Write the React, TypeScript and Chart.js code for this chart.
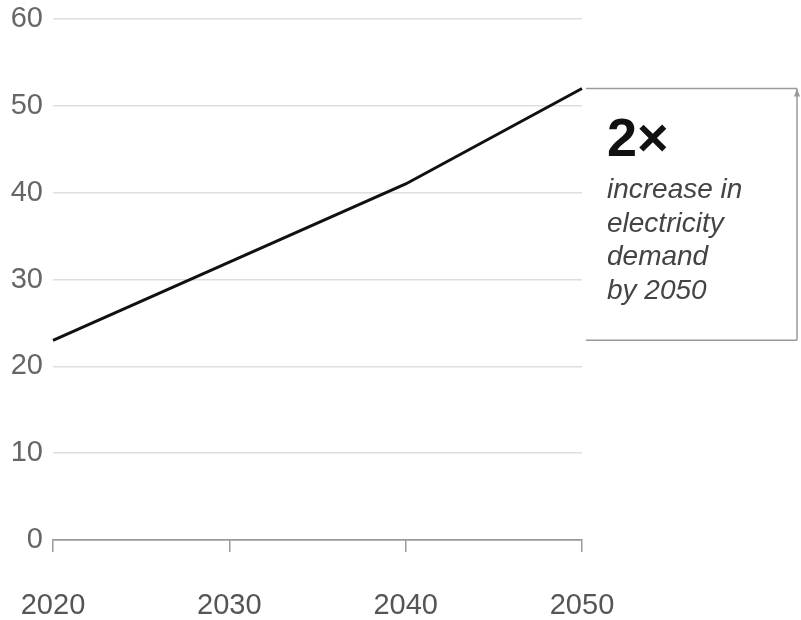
import React, { useEffect, useRef } from "react";
import { Chart, registerables } from "chart.js";

Chart.register(...registerables);

const years = ["2020", "2030", "2040", "2050"];
const demand = [23, 32, 41, 52];
const yTicks = [0, 10, 20, 30, 40, 50, 60];
const bigLabel = "2×";
const noteLines = ["increase in", "electricity", "demand", "by 2050"];

const FONT = "'Liberation Sans', Arial, sans-serif";

const annotationPlugin = {
  id: "bracketNote",
  afterDraw(chart: any) {
    const ctx = chart.ctx;
    const y = chart.scales.y;
    const area = chart.chartArea;
    const yTop = y.getPixelForValue(demand[demand.length - 1]);
    const yBot = y.getPixelForValue(demand[0]);
    const x0 = area.right + 4;
    const x1 = chart.width - 4;
    ctx.save();
    ctx.strokeStyle = "#9a9a9a";
    ctx.lineWidth = 1.5;
    ctx.beginPath();
    ctx.moveTo(x0, yTop);
    ctx.lineTo(x1, yTop);
    ctx.moveTo(x0, yBot);
    ctx.lineTo(x1, yBot);
    ctx.moveTo(x1, yBot);
    ctx.lineTo(x1, yTop);
    ctx.stroke();
    ctx.fillStyle = "#9a9a9a";
    ctx.beginPath();
    ctx.moveTo(x1, yTop);
    ctx.lineTo(x1 - 3, yTop + 8);
    ctx.lineTo(x1 + 3, yTop + 8);
    ctx.closePath();
    ctx.fill();

    const tx = area.right + 25;
    ctx.fillStyle = "#111";
    ctx.font = `bold 54px ${FONT}`;
    ctx.textBaseline = "alphabetic";
    ctx.textAlign = "left";
    ctx.fillText(bigLabel, tx, yTop + 68);
    ctx.fillStyle = "#444";
    ctx.font = `italic 28px ${FONT}`;
    noteLines.forEach((t, i) => {
      ctx.fillText(t, tx, yTop + 110 + i * 33.5);
    });
    ctx.restore();
  },
};

export default function App() {
  const ref = useRef<HTMLCanvasElement>(null);
  useEffect(() => {
    if (!ref.current) return;
    const chart = new Chart(ref.current, {
      type: "line",
      data: {
        labels: years,
        datasets: [
          {
            data: demand,
            borderColor: "#111",
            borderWidth: 3,
            pointRadius: 0,
            tension: 0,
            fill: false,
          },
        ],
      },
      options: {
        animation: false,
        responsive: false,
        devicePixelRatio: 1,
        layout: { padding: { top: 19, right: 219, left: 0, bottom: 0 } },
        plugins: { legend: { display: false }, tooltip: { enabled: false } },
        scales: {
          x: {
            type: "category",
            offset: false,
            grid: {
              drawOnChartArea: false,
              drawTicks: true,
              tickLength: 12,
              color: "#9a9a9a",
              lineWidth: 1.5,
            },
            border: { display: true, color: "#9a9a9a", width: 1.5 },
            ticks: {
              color: "#555",
              font: { family: FONT, size: 29 },
              padding: 37,
              maxRotation: 0,
              autoSkip: false,
            },
            afterFit: (s: any) => {
              s.height = 80;
              s.paddingLeft = 0;
              s.paddingRight = 0;
            },
          },
          y: {
            min: 0,
            max: 60,
            afterBuildTicks: (s: any) => {
              s.ticks = yTicks.map((v) => ({ value: v }));
            },
            grid: {
              drawTicks: false,
              color: (c: any) => (c.tick && c.tick.value === 0 ? "#9a9a9a" : "#dedede"),
              lineWidth: 1.5,
            },
            border: { display: false },
            ticks: {
              color: "#666",
              font: { family: FONT, size: 29 },
              padding: 10,
            },
            afterFit: (s: any) => {
              s.width = 53;
              s.paddingTop = 0;
              s.paddingBottom = 0;
            },
          },
        },
      },
      plugins: [annotationPlugin],
    });
    return () => chart.destroy();
  }, []);
  return (
    <div style={{ position: "absolute", left: 0, top: 0, width: 801, height: 620, background: "#fff" }}>
      <canvas ref={ref} width={801} height={620} style={{ display: "block" }} />
    </div>
  );
}
